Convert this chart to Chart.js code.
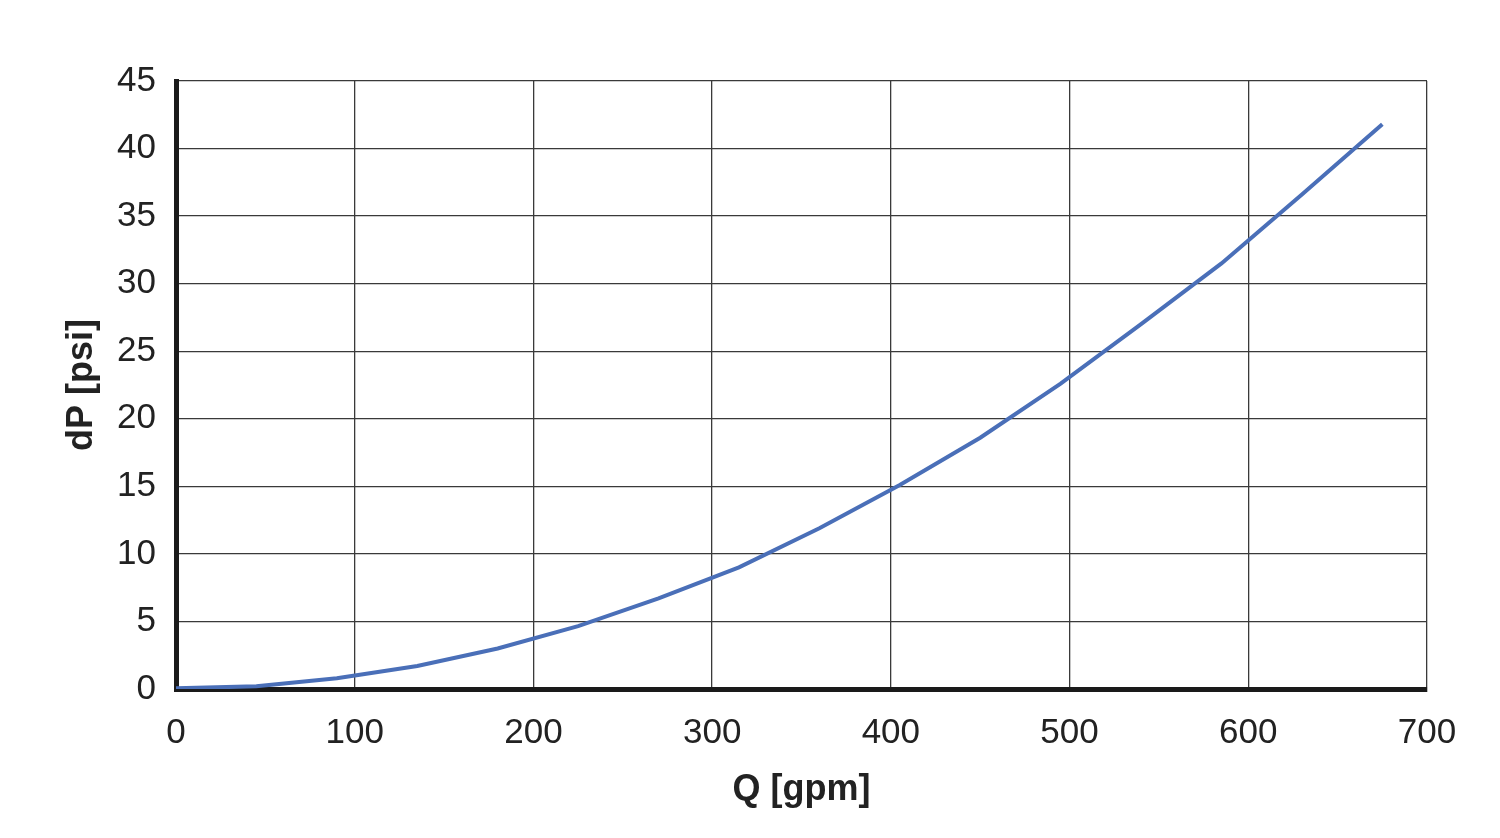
<!DOCTYPE html>
<html>
<head>
<meta charset="utf-8">
<script src="https://cdn.jsdelivr.net/npm/chart.js@4/dist/chart.umd.min.js"></script>
<style>
  html, body { margin: 0; padding: 0; background: #fff; }
  #wrap { width: 1500px; height: 838px; }
</style>
</head>
<body>
<div id="wrap"><canvas id="chart" width="1500" height="838"></canvas></div>
<script>
// flow (gpm) and pressure drop (psi)
var flowGpm = [0, 45, 90, 135, 180, 225, 270, 315, 360, 405, 450, 495, 540, 585, 630, 675];
var dropPsi = [0.05, 0.2, 0.8, 1.7, 3.0, 4.65, 6.7, 9.0, 11.9, 15.1, 18.6, 22.6, 27.0, 31.5, 36.6, 41.8];

var xTicks = [0, 100, 200, 300, 400, 500, 600, 700];
var yTicks = [0, 5, 10, 15, 20, 25, 30, 35, 40, 45];

var points = [];
for (var i = 0; i < flowGpm.length; i++) {
    points.push({ x: flowGpm[i], y: dropPsi[i] });
}

var fontFamily = "'Liberation Sans', Arial, sans-serif";
var textColor = '#222';

new Chart(document.getElementById('chart'), {
    type: 'line',
    data: {
        datasets: [{
            label: 'dP',
            data: points,
            borderColor: '#4a6fb8',
            borderWidth: 4,
            pointRadius: 0,
            tension: 0,
            fill: false
        }]
    },
    options: {
        responsive: false,
        animation: false,
        layout: { padding: { top: 81, right: 73, left: 0, bottom: 0 } },
        plugins: {
            legend: { display: false },
            tooltip: { enabled: false }
        },
        scales: {
            x: {
                type: 'linear',
                min: xTicks[0],
                max: xTicks[xTicks.length - 1],
                afterBuildTicks: function (scale) {
                    scale.ticks = xTicks.map(function (v) { return { value: v }; });
                },
                afterFit: function (scale) { scale.height = 149; },
                grid: { color: '#3a3a3a', lineWidth: 1.3, drawTicks: false },
                border: { display: true, color: '#1a1a1a', width: 5 },
                ticks: {
                    color: textColor,
                    padding: 23,
                    maxRotation: 0,
                    font: { family: fontFamily, size: 35 }
                },
                title: {
                    display: true,
                    text: 'Q [gpm]',
                    color: textColor,
                    font: { family: fontFamily, size: 36, weight: 'bold' },
                    padding: { top: 0, bottom: 26 }
                }
            },
            y: {
                min: yTicks[0],
                max: yTicks[yTicks.length - 1],
                afterBuildTicks: function (scale) {
                    scale.ticks = yTicks.map(function (v) { return { value: v }; });
                },
                afterFit: function (scale) { scale.width = 176; },
                grid: { color: '#3a3a3a', lineWidth: 1.3, drawTicks: false },
                border: { display: true, color: '#1a1a1a', width: 5 },
                ticks: {
                    color: textColor,
                    padding: 20,
                    font: { family: fontFamily, size: 35 }
                },
                title: {
                    display: true,
                    text: 'dP [psi]',
                    color: textColor,
                    font: { family: fontFamily, size: 36, weight: 'bold' },
                    padding: { top: 60, bottom: 0 }
                }
            }
        }
    }
});
</script>
</body>
</html>
